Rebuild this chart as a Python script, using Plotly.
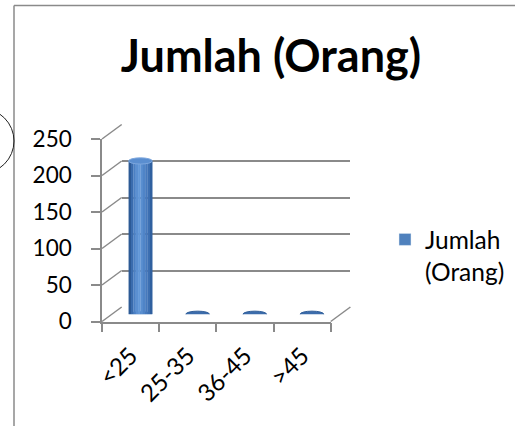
import plotly.graph_objects as go

categories = ["<25", "25-35", "36-45", ">45"]
values = [210, 0, 0, 0]
y_ticks = [0, 50, 100, 150, 200, 250]
series_name = "Jumlah (Orang)"
title_text = "Jumlah (Orang)"

W, H = 524, 426
def px(x): return x / W
def py(y): return 1 - y / H

XF0, XF1 = 102, 330.7
YF0, YF1 = 321.5, 139.0
DX, DY = 19.7, -14.5
YMAX = 250

def yf(v): return YF0 + (YF1 - YF0) * v / YMAX
def yb(v): return yf(v) + DY

fig = go.Figure()

fig.add_trace(go.Scatter(x=[], y=[], xaxis="x2", yaxis="y2", showlegend=False, hoverinfo="skip"))
fig.add_trace(go.Scatter(x=[], y=[], xaxis="x", yaxis="y", showlegend=False, hoverinfo="skip"))

slice_colors = ["#2d5a95", "#3a6cae", "#4b80c4", "#5b90d2", "#6398d8",
                "#5a8fd0", "#4f84c7", "#4679bd", "#3d6fb2", "#30609f"]
cyl_w = 0.415
n = len(slice_colors)
sw = cyl_w / n
for i, c in enumerate(slice_colors):
    fig.add_trace(go.Bar(
        x=categories, y=values, xaxis="x3", yaxis="y3",
        width=[sw * 1.08] * len(categories),
        offset=[-cyl_w / 2 + i * sw] * len(categories),
        marker=dict(color=c, line=dict(width=0)),
        showlegend=False, hoverinfo="skip"))

fig.add_trace(go.Bar(
    x=[categories[0]], y=[None], xaxis="x3", yaxis="y3",
    name="Jumlah<br>(Orang)", marker=dict(color="#4f81bd"),
    showlegend=True, hoverinfo="skip"))

shapes = []
shapes.append(dict(type="line", xref="paper", yref="paper",
                   x0=px(14), x1=px(14), y0=py(5.5), y1=py(430),
                   line=dict(color="#8a8a8a", width=1.5)))
shapes.append(dict(type="line", xref="paper", yref="paper",
                   x0=px(14), x1=px(515), y0=py(5.5), y1=py(5.5),
                   line=dict(color="#8a8a8a", width=1.5)))
shapes.append(dict(type="circle", xref="paper", yref="paper",
                   x0=px(-51), x1=px(14), y0=py(108.5), y1=py(173.5),
                   line=dict(color="#222222", width=1)))
for v in y_ticks:
    shapes.append(dict(type="line", xref="paper", yref="paper",
                       x0=px(XF0), y0=py(yf(v)), x1=px(XF0 + DX), y1=py(yb(v)),
                       line=dict(color="#8a8a8a", width=1.5)))
shapes.append(dict(type="line", xref="paper", yref="paper",
                   x0=px(XF1), y0=py(yf(0)), x1=px(XF1 + DX), y1=py(yb(0)),
                   line=dict(color="#8a8a8a", width=1.5)))

cap_h = 8.5
for i, v in enumerate(values):
    if v > 0:
        shapes.append(dict(type="circle", xref="x3", yref="y3", layer="below",
                           x0=i - cyl_w / 2, x1=i + cyl_w / 2,
                           y0=-cap_h / 2, y1=cap_h / 2,
                           fillcolor="#4277b9", line=dict(width=0)))
        shapes.append(dict(type="circle", xref="x3", yref="y3",
                           x0=i - cyl_w / 2, x1=i + cyl_w / 2,
                           y0=v - cap_h / 2, y1=v + cap_h / 2,
                           fillcolor="#5a8ed0", line=dict(color="#7da7de", width=1)))
    else:
        shapes.append(dict(type="circle", xref="x3", yref="y3",
                           x0=i - cyl_w / 2, x1=i + cyl_w / 2,
                           y0=v - cap_h / 2, y1=v + cap_h / 2,
                           fillcolor="#3c6cab", line=dict(color="#2f5d98", width=1)))

FONT = "Lato"
fig.update_layout(
    width=W, height=H,
    margin=dict(l=0, r=0, t=0, b=0, pad=0, autoexpand=False),
    paper_bgcolor="white", plot_bgcolor="rgba(0,0,0,0)",
    barmode="overlay",
    font=dict(family=FONT, color="black"),
    title=dict(text="<b>" + title_text + "</b>", x=px(271), xanchor="center",
               xref="paper", y=py(56.5), yanchor="middle", yref="paper",
               font=dict(family=FONT, size=45, color="black")),
    showlegend=True,
    legend=dict(x=px(385), y=py(217), xanchor="left", yanchor="top",
                valign="top", font=dict(family=FONT, size=24.5, color="black"),
                bgcolor="rgba(0,0,0,0)"),
    xaxis=dict(domain=[px(XF0), px(XF1)], type="category",
               categoryorder="array", categoryarray=categories,
               range=[-0.5, len(categories) - 0.5],
               showline=True, linecolor="#8a8a8a", linewidth=1.5,
               ticks="outside", tickson="boundaries", ticklen=9,
               tickcolor="#8a8a8a", tickwidth=1.5,
               ticklabelstandoff=9,
               tickangle=-45, tickfont=dict(family=FONT, size=24),
               showgrid=False, zeroline=False, anchor="y", fixedrange=True),
    yaxis=dict(domain=[py(YF0), py(YF1)], range=[0, YMAX],
               tickvals=y_ticks, ticktext=[str(t) for t in y_ticks],
               showline=True, linecolor="#8a8a8a", linewidth=1.5,
               ticks="outside", ticklen=9, tickcolor="#8a8a8a", tickwidth=1.5,
               ticklabelstandoff=15,
               tickfont=dict(family=FONT, size=22.5),
               showgrid=False, zeroline=False, anchor="x", fixedrange=True),
    xaxis2=dict(domain=[px(XF0 + DX), px(XF1 + DX)], range=[-0.5, 3.5],
                visible=False, anchor="y2", fixedrange=True),
    yaxis2=dict(domain=[py(yb(0)), py(yb(YMAX))], range=[0, YMAX],
                tickvals=y_ticks, showgrid=True, gridcolor="#8a8a8a",
                gridwidth=1.5, showticklabels=False, ticks="",
                showline=False, zeroline=False, anchor="x2", fixedrange=True),
    xaxis3=dict(domain=[px(XF0 + DX / 2), px(XF1 + DX / 2)], type="category",
                categoryorder="array", categoryarray=categories,
                range=[-0.5, len(categories) - 0.5],
                visible=False, anchor="y3", fixedrange=True),
    yaxis3=dict(domain=[py(yf(0) + DY / 2), py(yf(YMAX) + DY / 2)],
                range=[0, YMAX], visible=False, anchor="x3", fixedrange=True),
    shapes=shapes,
)

fig.write_html("out.html", config={"displayModeBar": False},
               post_script="document.body.style.margin='0';document.body.style.overflow='hidden';")
